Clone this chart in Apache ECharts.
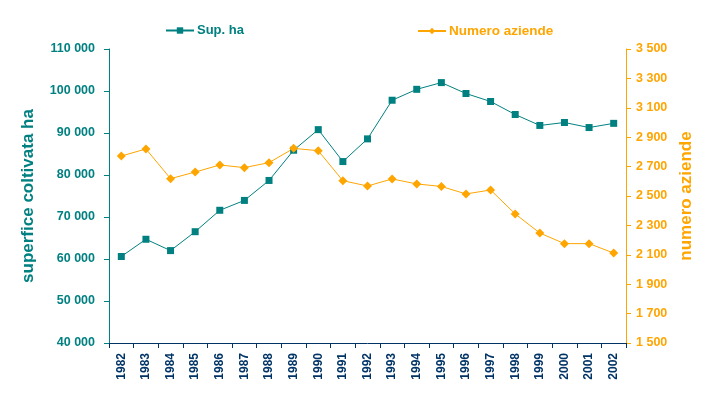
<!DOCTYPE html>
<html><head><meta charset="utf-8">
<script src="https://cdn.jsdelivr.net/npm/echarts@6/dist/echarts.min.js"></script>
<style>html,body{margin:0;padding:0;background:#fff}#c{width:715px;height:398px}</style>
</head><body><div id="c"></div>
<script>
var years = ['1982','1983','1984','1985','1986','1987','1988','1989','1990','1991','1992','1993','1994','1995','1996','1997','1998','1999','2000','2001','2002'];
var supHa = [60600,64700,62000,66500,71600,73950,78700,85900,90800,83200,88600,97800,100400,102000,99400,97500,94400,91800,92500,91300,92300];
var numeroAziende = [2772,2820,2618,2663,2711,2693,2727,2824,2808,2604,2568,2616,2582,2565,2514,2541,2378,2248,2176,2176,2112];

var TEAL = '#008080', ORANGE = '#FFA500', NAVY = '#003366';
var FONT = 'Liberation Sans, Arial, sans-serif';
function fmt(v){ return String(v).replace(/\B(?=(\d{3})+(?!\d))/g, ' '); }

var chart = echarts.init(document.getElementById('c'));
chart.setOption({
  animation: false,
  grid: {left: 109, right: 89, top: 49, bottom: 55},
  legend: [
    {data: ['Sup. ha'], left: 160, top: 19, itemWidth: 28, itemHeight: 8, itemGap: 4,
     textStyle: {color: TEAL, fontWeight: 'bold', fontSize: 13, fontFamily: FONT, padding: [0, 0, 0, -2]}},
    {data: ['Numero aziende'], left: 412, top: 19, itemWidth: 28, itemHeight: 8,
     textStyle: {color: ORANGE, fontWeight: 'bold', fontSize: 13.5, fontFamily: FONT, padding: [0, 0, 0, -2]}}
  ],
  xAxis: {
    type: 'category', data: years, boundaryGap: true,
    axisLine: {lineStyle: {color: NAVY, width: 1}},
    axisTick: {show: true, length: 5, inside: false, lineStyle: {color: NAVY}},
    axisLabel: {rotate: 90, interval: 0, color: NAVY, fontWeight: 'bold', fontSize: 12, fontFamily: FONT, margin: 10}
  },
  yAxis: [
    {type: 'value', min: 40000, max: 110000, interval: 10000, position: 'left',
     name: 'superfice coltivata ha', nameLocation: 'middle', nameGap: 72,
     nameTextStyle: {color: TEAL, fontWeight: 'bold', fontSize: 17, fontFamily: FONT},
     axisLine: {show: true, lineStyle: {color: TEAL}},
     axisTick: {show: true, length: 5, lineStyle: {color: TEAL}},
     splitLine: {show: false},
     axisLabel: {color: TEAL, fontWeight: 'bold', fontSize: 12.5, fontFamily: FONT, margin: 14, formatter: fmt}},
    {type: 'value', min: 1500, max: 3500, interval: 200, position: 'right',
     name: 'numero aziende', nameLocation: 'middle', nameGap: 50,
     nameTextStyle: {color: ORANGE, fontWeight: 'bold', fontSize: 17, fontFamily: FONT},
     axisLine: {show: true, lineStyle: {color: ORANGE}},
     axisTick: {show: true, length: 5, inside: false, lineStyle: {color: ORANGE}},
     splitLine: {show: false},
     axisLabel: {color: ORANGE, fontWeight: 'bold', fontSize: 12.5, fontFamily: FONT, margin: 10, formatter: fmt}}
  ],
  series: [
    {name: 'Sup. ha', type: 'line', yAxisIndex: 0, data: supHa,
     symbol: 'rect', symbolSize: 7, showAllSymbol: true,
     lineStyle: {color: TEAL, width: 1}, itemStyle: {color: TEAL}},
    {name: 'Numero aziende', type: 'line', yAxisIndex: 1, data: numeroAziende,
     symbol: 'diamond', symbolSize: 9, showAllSymbol: true,
     lineStyle: {color: ORANGE, width: 1}, itemStyle: {color: ORANGE}}
  ]
});
</script></body></html>
